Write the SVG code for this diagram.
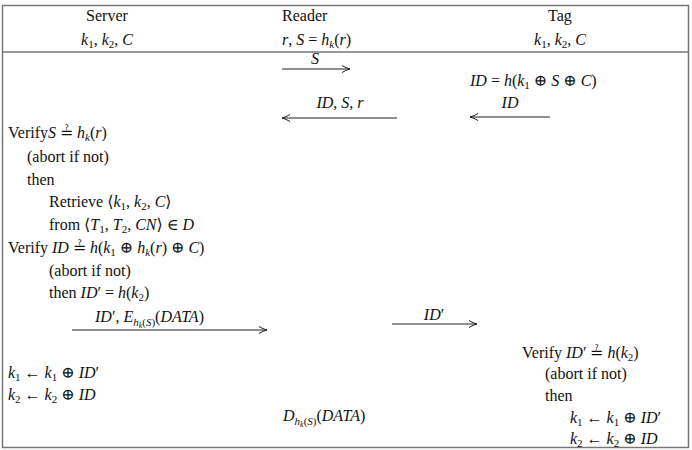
<svg xmlns="http://www.w3.org/2000/svg" width="692" height="450" viewBox="0 0 692 450">
<style>
text{font-family:"Liberation Serif","DejaVu Serif",serif;font-size:16px;fill:#111}
.i{font-style:italic}
.s{font-size:11px}
.ss{font-size:8px}
.c{text-anchor:middle}
.ln{stroke:#222;stroke-width:1;fill:none}
</style>
<defs><marker id="a" markerWidth="10" markerHeight="8" refX="9" refY="4" orient="auto" markerUnits="userSpaceOnUse"><path d="M1,0.5 Q5,3 9,4 Q5,5 1,7.5" fill="none" stroke="#222" stroke-width="1"/></marker></defs>
<rect x="2.5" y="5.5" width="686" height="442" fill="#fff" stroke="#777" stroke-width="1.5"/>
<line x1="2" y1="52" x2="689" y2="52" stroke="#777" stroke-width="1.5"/>
<g id="server">
<text x="107" y="21" class="c">Server</text>
<text x="107" y="45" class="c"><tspan class="i">k</tspan><tspan class="s" dy="3">1</tspan><tspan dy="-3">, </tspan><tspan class="i">k</tspan><tspan class="s" dy="3">2</tspan><tspan dy="-3">, </tspan><tspan class="i">C</tspan></text>
<text x="8" y="138">Verify<tspan class="i">S</tspan> ≟ <tspan class="i">h</tspan><tspan class="s i" dy="3">k</tspan><tspan dy="-3">(</tspan><tspan class="i">r</tspan>)</text>
<text x="27" y="162">(abort if not)</text>
<text x="27" y="185">then</text>
<text x="49" y="207">Retrieve ⟨<tspan class="i">k</tspan><tspan class="s" dy="3">1</tspan><tspan dy="-3">, </tspan><tspan class="i">k</tspan><tspan class="s" dy="3">2</tspan><tspan dy="-3">, </tspan><tspan class="i">C</tspan>⟩</text>
<text x="49" y="230">from ⟨<tspan class="i">T</tspan><tspan class="s" dy="3">1</tspan><tspan dy="-3">, </tspan><tspan class="i">T</tspan><tspan class="s" dy="3">2</tspan><tspan dy="-3">, </tspan><tspan class="i">CN</tspan>⟩ ∈ <tspan class="i">D</tspan></text>
<text x="8" y="253">Verify <tspan class="i">ID</tspan> ≟ <tspan class="i">h</tspan>(<tspan class="i">k</tspan><tspan class="s" dy="3">1</tspan><tspan dy="-3"> ⊕ </tspan><tspan class="i">h</tspan><tspan class="s i" dy="3">k</tspan><tspan dy="-3">(</tspan><tspan class="i">r</tspan>) ⊕ <tspan class="i">C</tspan>)</text>
<text x="49" y="276">(abort if not)</text>
<text x="49" y="298">then <tspan class="i">ID</tspan>′ = <tspan class="i">h</tspan>(<tspan class="i">k</tspan><tspan class="s" dy="3">2</tspan><tspan dy="-3">)</tspan></text>
<text x="8" y="378"><tspan class="i">k</tspan><tspan class="s" dy="3">1</tspan><tspan dy="-3"> ← </tspan><tspan class="i">k</tspan><tspan class="s" dy="3">1</tspan><tspan dy="-3"> ⊕ </tspan><tspan class="i">ID</tspan>′</text>
<text x="8" y="400"><tspan class="i">k</tspan><tspan class="s" dy="3">2</tspan><tspan dy="-3"> ← </tspan><tspan class="i">k</tspan><tspan class="s" dy="3">2</tspan><tspan dy="-3"> ⊕ </tspan><tspan class="i">ID</tspan></text>
</g>
<g id="reader">
<text x="282" y="21">Reader</text>
<text x="282" y="45"><tspan class="i">r</tspan>, <tspan class="i">S</tspan> = <tspan class="i">h</tspan><tspan class="s i" dy="3">k</tspan><tspan dy="-3">(</tspan><tspan class="i">r</tspan>)</text>
<text x="283" y="421"><tspan class="i">D</tspan><tspan class="s i" dy="4">h</tspan><tspan class="ss i" dy="2">k</tspan><tspan class="s" dy="-2">(</tspan><tspan class="s i">S</tspan><tspan class="s">)</tspan><tspan dy="-4">(</tspan><tspan class="i">DATA</tspan>)</text>
</g>
<g id="tag">
<text x="560" y="21" class="c">Tag</text>
<text x="560" y="45" class="c"><tspan class="i">k</tspan><tspan class="s" dy="3">1</tspan><tspan dy="-3">, </tspan><tspan class="i">k</tspan><tspan class="s" dy="3">2</tspan><tspan dy="-3">, </tspan><tspan class="i">C</tspan></text>
<text x="470" y="86"><tspan class="i">ID</tspan> = <tspan class="i">h</tspan>(<tspan class="i">k</tspan><tspan class="s" dy="3">1</tspan><tspan dy="-3"> ⊕ </tspan><tspan class="i">S</tspan> ⊕ <tspan class="i">C</tspan>)</text>
<text x="522" y="358">Verify <tspan class="i">ID</tspan>′ ≟ <tspan class="i">h</tspan>(<tspan class="i">k</tspan><tspan class="s" dy="3">2</tspan><tspan dy="-3">)</tspan></text>
<text x="545" y="379">(abort if not)</text>
<text x="545" y="401">then</text>
<text x="570" y="423"><tspan class="i">k</tspan><tspan class="s" dy="3">1</tspan><tspan dy="-3"> ← </tspan><tspan class="i">k</tspan><tspan class="s" dy="3">1</tspan><tspan dy="-3"> ⊕ </tspan><tspan class="i">ID</tspan>′</text>
<text x="570" y="444"><tspan class="i">k</tspan><tspan class="s" dy="3">2</tspan><tspan dy="-3"> ← </tspan><tspan class="i">k</tspan><tspan class="s" dy="3">2</tspan><tspan dy="-3"> ⊕ </tspan><tspan class="i">ID</tspan></text>
</g>
<g id="connectors">
<line class="ln" x1="282" y1="69" x2="350" y2="69" marker-end="url(#a)"/>
<text x="315" y="64" class="c i">S</text>
<line class="ln" x1="397" y1="118" x2="282" y2="118" marker-end="url(#a)"/>
<text x="340" y="108" class="c"><tspan class="i">ID</tspan>, <tspan class="i">S</tspan>, <tspan class="i">r</tspan></text>
<line class="ln" x1="550" y1="117" x2="470" y2="117" marker-end="url(#a)"/>
<text x="510" y="108" class="c i">ID</text>
<line class="ln" x1="72" y1="330" x2="267" y2="330" marker-end="url(#a)"/>
<text x="95" y="322"><tspan class="i">ID</tspan>′, <tspan class="i">E</tspan><tspan class="s i" dy="4">h</tspan><tspan class="ss i" dy="2">k</tspan><tspan class="s" dy="-2">(</tspan><tspan class="s i">S</tspan><tspan class="s">)</tspan><tspan dy="-4">(</tspan><tspan class="i">DATA</tspan>)</text>
<line class="ln" x1="392" y1="324" x2="477" y2="324" marker-end="url(#a)"/>
<text x="434" y="320" class="c"><tspan class="i">ID</tspan>′</text>
</g>
</svg>
